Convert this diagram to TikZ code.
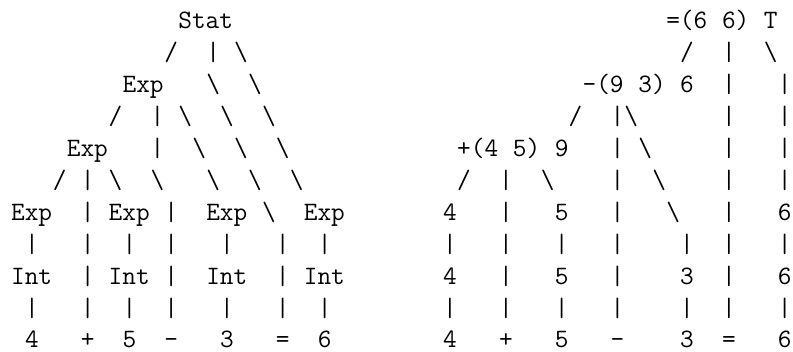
\documentclass[tikz,border=0pt]{standalone}
\newcommand{\tkS}{/}
\newcommand{\tkB}{\textbackslash}
\newcommand{\tkV}{\textbar}
\begin{document}
\begin{tikzpicture}[x=1pt,y=1pt,
  ch/.style={anchor=base west,inner sep=0pt,outer sep=0pt,text=black,
    font=\fontsize{26.55pt}{32pt}\selectfont\ttfamily}]
\useasboundingbox (0,0) rectangle (793,-352);
\foreach \r/\c/\t in {
 0/12/Stat, 0/47/{=(6}, 0/51/{6)}, 0/54/T,
 1/11/\tkS, 1/14/\tkV, 1/16/\tkB, 1/48/\tkS, 1/51/\tkV, 1/54/\tkB,
 2/8/Exp, 2/14/\tkB, 2/17/\tkB, 2/41/{-(9}, 2/45/{3)}, 2/48/6, 2/51/\tkV, 2/55/\tkV,
 3/7/\tkS, 3/10/\tkV, 3/12/\tkB, 3/15/\tkB, 3/18/\tkB, 3/40/\tkS, 3/43/\tkV, 3/44/\tkB, 3/51/\tkV, 3/55/\tkV,
 4/4/Exp, 4/10/\tkV, 4/13/\tkB, 4/16/\tkB, 4/19/\tkB, 4/32/{+(4}, 4/36/{5)}, 4/39/9, 4/43/\tkV, 4/45/\tkB, 4/51/\tkV, 4/55/\tkV,
 5/3/\tkS, 5/5/\tkV, 5/7/\tkB, 5/10/\tkB, 5/14/\tkB, 5/17/\tkB, 5/20/\tkB, 5/32/\tkS, 5/35/\tkV, 5/38/\tkB, 5/43/\tkV, 5/46/\tkB, 5/51/\tkV, 5/55/\tkV,
 6/0/Exp, 6/5/\tkV, 6/7/Exp, 6/11/\tkV, 6/14/Exp, 6/18/\tkB, 6/21/Exp, 6/31/4, 6/35/\tkV, 6/39/5, 6/43/\tkV, 6/47/\tkB, 6/51/\tkV, 6/55/6,
 7/1/\tkV, 7/5/\tkV, 7/8/\tkV, 7/11/\tkV, 7/15/\tkV, 7/19/\tkV, 7/22/\tkV, 7/31/\tkV, 7/35/\tkV, 7/39/\tkV, 7/43/\tkV, 7/48/\tkV, 7/51/\tkV, 7/55/\tkV,
 8/0/Int, 8/5/\tkV, 8/7/Int, 8/11/\tkV, 8/14/Int, 8/19/\tkV, 8/21/Int, 8/31/4, 8/35/\tkV, 8/39/5, 8/43/\tkV, 8/48/3, 8/51/\tkV, 8/55/6,
 9/1/\tkV, 9/5/\tkV, 9/8/\tkV, 9/11/\tkV, 9/15/\tkV, 9/19/\tkV, 9/22/\tkV, 9/31/\tkV, 9/35/\tkV, 9/39/\tkV, 9/43/\tkV, 9/48/\tkV, 9/51/\tkV, 9/55/\tkV,
 10/1/4, 10/5/+, 10/8/5, 10/11/-, 10/15/3, 10/19/=, 10/22/6, 10/31/4, 10/35/+, 10/39/5, 10/43/-, 10/48/3, 10/51/=, 10/55/6}
 \node[ch] (n\r-\c) at ({11.1+13.94*\c},{-(28.3+31.97*\r)}) {\t};
\end{tikzpicture}
\end{document}
